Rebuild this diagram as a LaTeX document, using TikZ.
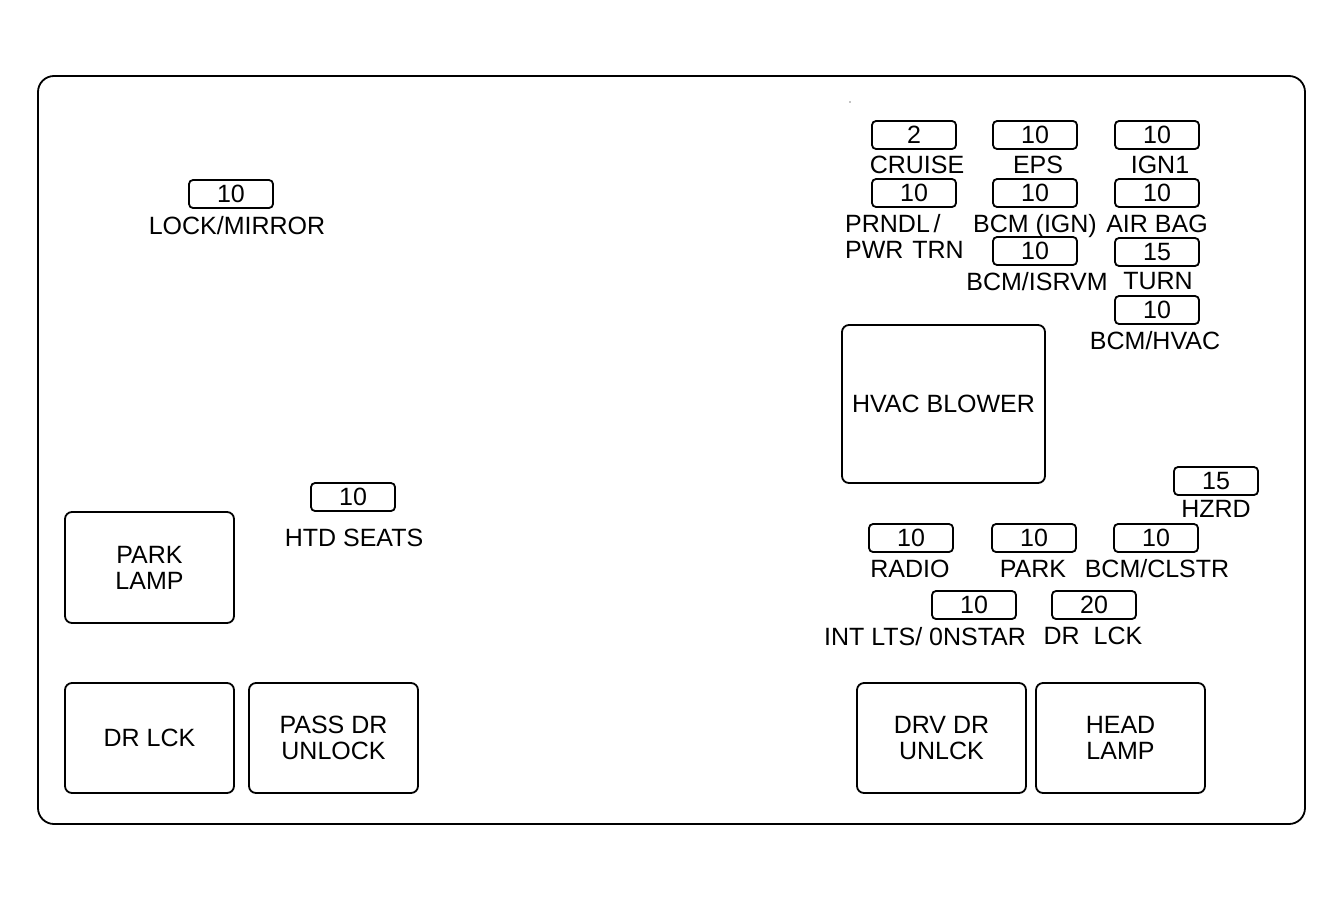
\documentclass[tikz,border=0pt]{standalone}
\usepackage{fontspec}
\setmainfont{Liberation Sans}
\begin{document}
\begin{tikzpicture}[x=1pt,y=-1pt,
  every node/.style={font=\fontsize{25}{26}\selectfont, inner sep=0pt},
  fuse/.style={draw, line width=1.8pt, rounded corners=4pt, minimum width=84pt, minimum height=28pt, text height=17.5pt, text depth=0pt},
  relay/.style={draw, line width=1.8pt, rounded corners=7pt, minimum width=169pt, minimum height=110pt, align=center},
  lbl/.style={text height=17.5pt, text depth=0pt}]
\useasboundingbox (0,0) rectangle (1343,900);
\draw[line width=1.8pt, rounded corners=16pt] (38,76) rectangle (1305,824);
\fill (850,102) circle (0.6pt);
% left fuses
\node[fuse] (f16) at (231,194) {10};
\node[lbl] (l16) at (237,226) {LOCK/MIRROR};
\node[fuse] (f17) at (353,497) {10};
\node[lbl] (l17) at (354,538) {HTD SEATS};
% left relays
\node[relay, minimum height=111pt] (parklamp) at (149.5,567.5) {PARK\\LAMP};
\node[relay] (drlck) at (149.5,738) {DR LCK};
\node[relay] (passdr) at (333.5,738) {PASS DR\\UNLOCK};
% right relays
\node[relay] (drvdr) at (941.5,738) {DRV DR\\UNLCK};
\node[relay] (headlamp) at (1120.5,738) {HEAD\\LAMP};
\node[relay, minimum width=203pt, minimum height=158pt] (hvac) at (943.5,404) {HVAC BLOWER};
% upper right fuses
\node[fuse] (f1) at (914,135) {2};
\node[lbl] (l1) at (917,165) {CRUISE};
\node[fuse] (f2) at (1035,135) {10};
\node[lbl] (l2) at (1038,165) {EPS};
\node[fuse] (f3) at (1157,135) {10};
\node[lbl] (l3) at (1160,165) {IGN1};
\node[fuse] (f4) at (914,193) {10};
\node[lbl, anchor=west] (l4a) at (845,224) {PRNDL\hspace{0.15em}/};
\node[lbl, anchor=west] (l4b) at (845,250) {PWR\hspace{0.35em}TRN};
\node[fuse] (f5) at (1035,193) {10};
\node[lbl] (l5) at (1035,224) {BCM (IGN)};
\node[fuse] (f6) at (1157,193) {10};
\node[lbl] (l6) at (1157,224) {AIR BAG};
\node[fuse] (f7) at (1035,251) {10};
\node[lbl] (l7) at (1037,282) {BCM/ISRVM};
\node[fuse] (f8) at (1157,252) {15};
\node[lbl] (l8) at (1158,281) {TURN};
\node[fuse] (f9) at (1157,310) {10};
\node[lbl] (l9) at (1155,341) {BCM/HVAC};
% lower right fuses
\node[fuse] (f10) at (1216,481) {15};
\node[lbl] (l10) at (1216,509) {HZRD};
\node[fuse] (f11) at (911,538) {10};
\node[lbl] (l11) at (910,569) {RADIO};
\node[fuse] (f12) at (1034,538) {10};
\node[lbl] (l12) at (1033,569) {PARK};
\node[fuse] (f13) at (1156,538) {10};
\node[lbl] (l13) at (1157,569) {BCM/CLSTR};
\node[fuse] (f14) at (974,605) {10};
\node[lbl] (l14) at (925,637) {INT LTS/ 0NSTAR};
\node[fuse] (f15) at (1094,605) {20};
\node[lbl] (l15) at (1093,636) {DR\ \ LCK};
\end{tikzpicture}
\end{document}
